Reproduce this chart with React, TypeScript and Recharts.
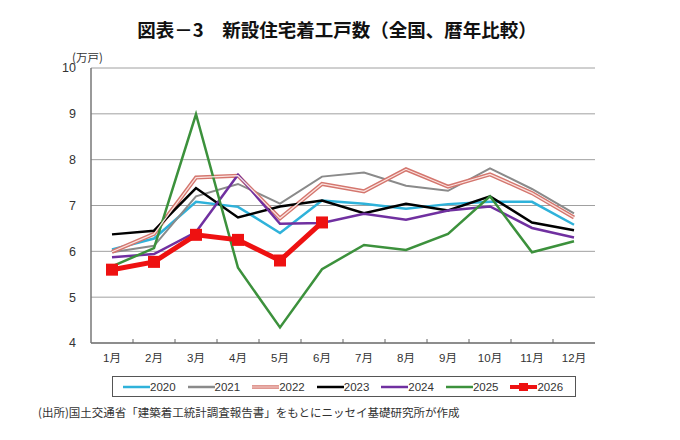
import React from 'react';
import { LineChart, Line, XAxis, YAxis, CartesianGrid } from 'recharts';

const months = ['1月', '2月', '3月', '4月', '5月', '6月', '7月', '8月', '9月', '10月', '11月', '12月'];
const y2020 = [6.04, 6.28, 7.08, 6.97, 6.4, 7.11, 7.04, 6.93, 7.03, 7.08, 7.08, 6.58];
const y2021 = [5.98, 6.12, 7.2, 7.47, 7.04, 7.63, 7.72, 7.43, 7.32, 7.81, 7.36, 6.83];
const y2022 = [5.99, 6.38, 7.61, 7.65, 6.72, 7.47, 7.31, 7.79, 7.41, 7.68, 7.27, 6.74];
const y2023 = [6.37, 6.45, 7.38, 6.74, 6.98, 7.11, 6.83, 7.04, 6.89, 7.2, 6.63, 6.46];
const y2024 = [5.87, 5.94, 6.42, 7.67, 6.6, 6.62, 6.82, 6.69, 6.89, 6.98, 6.51, 6.3];
const y2025 = [5.67, 6.07, 8.99, 5.64, 4.34, 5.61, 6.14, 6.03, 6.38, 7.2, 5.98, 6.22];
const y2026 = [5.6, 5.77, 6.36, 6.25, 5.8, 6.63];
const yTicks = [4, 5, 6, 7, 8, 9, 10];

const series = [
  { key: '2020', color: '#2fb2da', width: 2.5 },
  { key: '2021', color: '#8a8a8a', width: 2 },
  { key: '2022', color: '#d4766e', width: 4 },
  { key: '2023', color: '#000000', width: 2.5 },
  { key: '2024', color: '#7030a0', width: 2.5 },
  { key: '2025', color: '#3c913c', width: 2.5 },
  { key: '2026', color: '#ee1111', width: 5 },
];

const data = months.map((m, i) => ({
  month: m,
  '2020': y2020[i],
  '2021': y2021[i],
  '2022': y2022[i],
  '2023': y2023[i],
  '2024': y2024[i],
  '2025': y2025[i],
  '2026': i < y2026.length ? y2026[i] : null,
}));

const font = '"Liberation Sans", "Noto Sans CJK JP", sans-serif';
const jp = '"Noto Sans CJK JP", sans-serif';

const PLOT_W = 504;
const HALF = PLOT_W / months.length / 2;

// month label plus the small inward tick on the category boundary
const MonthTick = (props: any) => {
  const { x, y, payload, index } = props;
  return (
    <g>
      {index < months.length - 1 && (
        <line x1={x + HALF} x2={x + HALF} y1={y} y2={y - 4} stroke="#666" strokeWidth={1} />
      )}
      <text x={x} y={y + 19} textAnchor="middle" fontSize={11.5} fill="#333" fontFamily={font}>
        {payload.value}
      </text>
    </g>
  );
};

const RedSquare = (props: any) => {
  const { cx, cy, value } = props;
  if (value == null || cx == null) return null;
  return <rect x={cx - 6} y={cy - 6} width={12} height={12} fill="#ee1111" />;
};

function LegendBox() {
  return (
    <div
      style={{
        position: 'absolute',
        left: 112,
        top: 376,
        width: 464,
        height: 21,
        border: '1px solid #555',
        display: 'flex',
        alignItems: 'center',
        paddingLeft: 10,
        boxSizing: 'border-box',
        fontFamily: font,
        fontSize: 11.5,
        color: '#333',
      }}
    >
      {series.map((s) => (
        <div key={s.key} style={{ display: 'flex', alignItems: 'center', width: 65.6 }}>
          <svg width={27} height={14}>
            <line x1={0} x2={27} y1={7} y2={7} stroke={s.color} strokeWidth={s.key === '2026' ? 4 : s.key === '2022' ? 3.5 : 2.5} />
            {s.key === '2022' && <line x1={0} x2={27} y1={7} y2={7} stroke="#fbe4e1" strokeWidth={1} />}
            {s.key === '2026' && <rect x={9} y={3} width={9} height={8} fill={s.color} />}
          </svg>
          <span>{s.key}</span>
        </div>
      ))}
    </div>
  );
}

export default function App() {
  return (
    <div style={{ position: 'absolute', left: 0, top: 0, width: 680, height: 440, background: '#fff' }}>
      <div
        style={{
          position: 'absolute',
          left: 0,
          width: 680,
          top: 16,
          textAlign: 'center',
          fontFamily: jp,
          fontWeight: 'bold',
          fontSize: 18.5,
          color: '#111',
          paddingRight: 6,
          boxSizing: 'border-box',
        }}
      >
        図表－3　新設住宅着工戸数（全国、暦年比較）
      </div>
      <div style={{ position: 'absolute', left: 72, top: 49, fontFamily: jp, fontSize: 11.5, color: '#333' }}>
        (万戸)
      </div>
      <LineChart
        width={680}
        height={440}
        data={data}
        margin={{ top: 68, right: 85, bottom: 67, left: 51 }}
        style={{ position: 'absolute', left: 0, top: 0 }}
      >
        <CartesianGrid vertical={false} stroke="#a0a0a0" strokeWidth={1} />
        <XAxis
          dataKey="month"
          height={30}
          padding={{ left: HALF, right: HALF }}
          tickLine={false}
          tickSize={0}
          tickMargin={0}
          axisLine={{ stroke: '#777', strokeWidth: 1.5 }}
          tick={<MonthTick />}
          interval={0}
        />
        <YAxis
          width={40}
          domain={[4, 10]}
          ticks={yTicks}
          tickLine={false}
          axisLine={{ stroke: '#777', strokeWidth: 1.5 }}
          tick={{ fontSize: 12.5, fill: '#333', fontFamily: font }}
          tickMargin={9}
        />
        <YAxis yAxisId="frame" orientation="right" width={0} tick={false} tickLine={false} axisLine={{ stroke: '#777', strokeWidth: 1.5 }} />
        {series.map((s) => (
          <Line
            key={s.key}
            dataKey={s.key}
            stroke={s.color}
            strokeWidth={s.width}
            dot={s.key === '2026' ? <RedSquare /> : false}
            activeDot={false}
            isAnimationActive={false}
            connectNulls={false}
          />
        ))}
        <Line
          dataKey="2022"
          stroke="#fbe4e1"
          strokeWidth={1.2}
          dot={false}
          activeDot={false}
          legendType="none"
          isAnimationActive={false}
        />
      </LineChart>
      <LegendBox />
      <div style={{ position: 'absolute', left: 38, top: 404, fontFamily: jp, fontSize: 11.5, color: '#333' }}>
        (出所)国土交通省「建築着工統計調査報告書」をもとにニッセイ基礎研究所が作成
      </div>
    </div>
  );
}
